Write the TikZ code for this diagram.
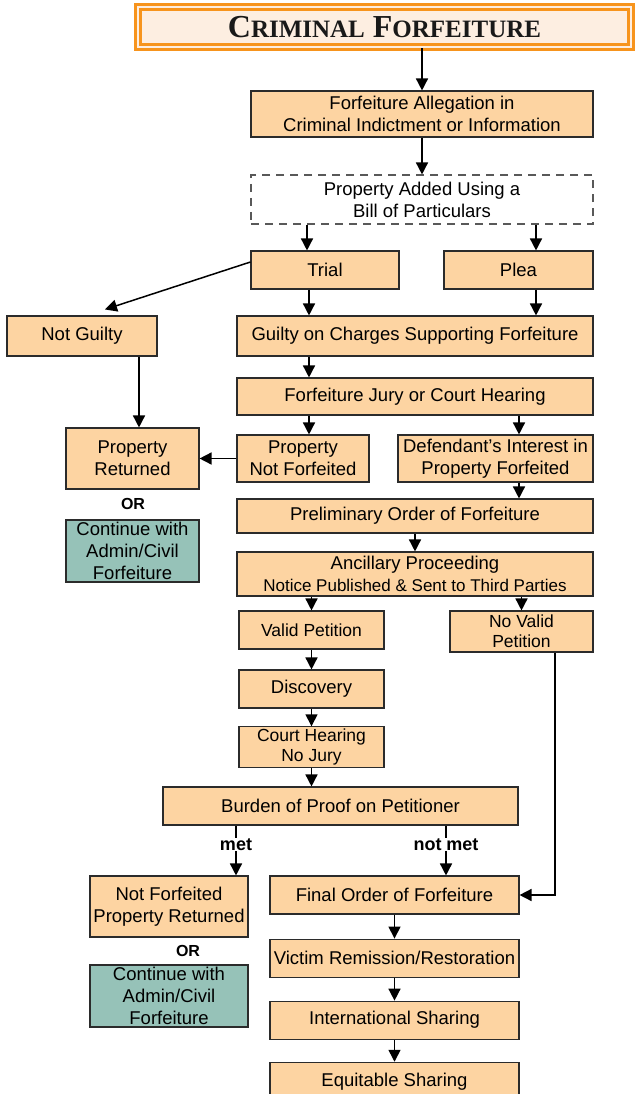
\documentclass[tikz,border=0pt]{standalone}
\usepackage{fontspec}
\setmainfont{Liberation Sans}
\setsansfont{Liberation Sans}
\newfontfamily\titlefont{Liberation Serif}
\usetikzlibrary{positioning,arrows.meta}
\definecolor{peach}{HTML}{FDD4A2}
\definecolor{sage}{HTML}{96C2B8}
\definecolor{tangerine}{HTML}{F7941D}
\definecolor{cream}{HTML}{FDEEE1}
\definecolor{ink}{HTML}{2B2B2B}

\begin{document}
\begin{tikzpicture}[
  x=1pt, y=-1pt,
  font=\sffamily\fontsize{18.5}{22}\selectfont,
  box/.style={draw=ink, line width=1.1pt, fill=peach, text=black, align=center, inner sep=2pt},
  alt/.style={box, fill=sage},
  ghost/.style={box, fill=none, draw=gray!70!black, dash pattern=on 8pt off 6pt},
  banner/.style={draw=tangerine, line width=2.5pt, double=cream, double distance=2.5pt, fill=cream, text=black!90, inner sep=0pt},
  small/.style={font=\sffamily\fontsize{17.5}{20}\selectfont},
  orlbl/.style={font=\sffamily\bfseries\fontsize{16}{18}\selectfont},
  cond/.style={fill=white, inner sep=1pt, font=\sffamily\bfseries\fontsize{18}{20}\selectfont},
  arr/.style={-{Triangle[length=12pt, width=12pt]}, line width=1.5pt, draw=black},
]
\useasboundingbox (0,0) rectangle (635,1094);

% title
\node[banner, minimum width=493pt, minimum height=40pt] (head) at (384.5,27)
  {\titlefont\bfseries\fontsize{32}{36}\selectfont C{\fontsize{25}{36}\selectfont RIMINAL} F{\fontsize{25}{36}\selectfont ORFEITURE}};

% indictment and trial
\node[box, minimum width=342pt, minimum height=46pt] (alleg) at (422,114) {Forfeiture Allegation in\\Criminal Indictment or Information};
\node[ghost, minimum width=342pt, minimum height=49pt] (bill) at (422,199.5) {Property Added Using a\\Bill of Particulars};
\node[box, minimum width=148pt, minimum height=38pt] (trial) at (325,270) {Trial};
\node[box, minimum width=149pt, minimum height=38pt] (plea) at (518.5,270) {Plea};
\node[box, minimum width=150pt, minimum height=40pt] (notguilty) at (82,336) {Not Guilty};
\node[box, minimum width=356pt, minimum height=40pt] (guilty) at (415,336) {Guilty on Charges Supporting Forfeiture};
\node[box, minimum width=356pt, minimum height=37pt] (jury) at (415,396.5) {Forfeiture Jury or Court Hearing};
\node[box, minimum width=133pt, minimum height=61pt] (returned) at (132.5,458.5) {Property\\Returned};
\node[box, minimum width=132pt, minimum height=47pt] (notforf) at (303,458.5) {Property\\Not Forfeited};
\node[box, minimum width=195pt, minimum height=47pt] (interest) at (495.5,458.5) {Defendant’s Interest in\\Property Forfeited};
\node[orlbl] (or1) at (133,504) {OR};
\node[alt, minimum width=133pt, minimum height=62pt] (civil1) at (132.5,551) {Continue with\\Admin/Civil\\Forfeiture};

% ancillary proceeding
\node[box, minimum width=356pt, minimum height=34pt] (prelim) at (415,516) {Preliminary Order of Forfeiture};
\node[box, minimum width=356pt, minimum height=44pt] (ancil) at (415,574) {Ancillary Proceeding\\{\fontsize{17}{19}\selectfont Notice Published \& Sent to Third Parties}};
\node[box, small, minimum width=145pt, minimum height=38pt] (valid) at (311.5,630) {Valid Petition};
\node[box, small, minimum width=143pt, minimum height=41pt] (novalid) at (521.5,631.5) {No Valid\\Petition};
\node[box, minimum width=145pt, minimum height=38pt] (discovery) at (311.5,689) {Discovery};
\node[box, small, minimum width=145pt, minimum height=40pt] (courthear) at (311.5,747) {Court Hearing\\No Jury};
\node[box, minimum width=355pt, minimum height=38pt] (burden) at (340.5,806) {Burden of Proof on Petitioner};
\node[box, minimum width=158pt, minimum height=61pt] (returned2) at (169,906.5) {Not Forfeited\\Property Returned};
\node[orlbl] (or2) at (188,951) {OR};
\node[alt, minimum width=158pt, minimum height=62pt] (civil2) at (169,996) {Continue with\\Admin/Civil\\Forfeiture};

% final steps
\node[box, minimum width=249pt, minimum height=38pt] (final) at (394.5,895) {Final Order of Forfeiture};
\node[box, minimum width=249pt, minimum height=38pt, below=24pt of final] (victim) {Victim Remission/Restoration};
\node[box, minimum width=249pt, minimum height=38pt, below=23pt of victim] (intl) {International Sharing};
\node[box, minimum width=249pt, minimum height=38pt, below=22pt of intl] (equit) {Equitable Sharing};

% connectors
\draw[arr] (alleg.north |- head.south) -- (alleg.north);
\draw[arr] (alleg.south) -- (bill.north);
\draw[arr] ([xshift=-18pt]trial.north |- bill.south) -- ([xshift=-18pt]trial.north);
\draw[arr] ([xshift=17.5pt]plea.north |- bill.south) -- ([xshift=17.5pt]plea.north);
\draw[arr] ([yshift=8pt]trial.west) -- ([xshift=23pt,yshift=6pt]notguilty.north);
\draw[arr] ([xshift=-16pt]trial.south) -- ([xshift=-16pt]trial.south |- guilty.north);
\draw[arr] ([xshift=17.5pt]plea.south) -- ([xshift=17.5pt]plea.south |- guilty.north);
\draw[arr] ([xshift=57pt]notguilty.south) -- ([xshift=57pt]notguilty.south |- returned.north);
\draw[arr] ([xshift=-106pt]guilty.south) -- ([xshift=-106pt]guilty.south |- jury.north);
\draw[arr] ([xshift=6pt]notforf.north |- jury.south) -- ([xshift=6pt]notforf.north);
\draw[arr] ([xshift=23.5pt]interest.north |- jury.south) -- ([xshift=23.5pt]interest.north);
\draw[arr] (notforf.west) -- (returned.east);
\draw[arr] ([xshift=23.5pt]interest.south) -- ([xshift=23.5pt]interest.south |- prelim.north);
\draw[arr] (prelim.south) -- (ancil.north);
\draw[arr] (valid.north |- ancil.south) -- (valid.north);
\draw[arr] (novalid.north |- ancil.south) -- (novalid.north);
\draw[arr] (valid.south) -- (discovery.north);
\draw[arr] (discovery.south) -- (courthear.north);
\draw[arr] (courthear.south) -- (courthear.south |- burden.north);
\draw[arr] ([xshift=67pt]returned2.north |- burden.south) -- node[cond, pos=0.38] (met) {met} ([xshift=67pt]returned2.north);
\draw[arr] ([xshift=51.5pt]final.north |- burden.south) -- node[cond, pos=0.38] (notmet) {not met} ([xshift=51.5pt]final.north);
\draw[arr] ([xshift=33.5pt]novalid.south) |- (final.east);
\draw[arr] (final.south) -- (victim.north);
\draw[arr] (victim.south) -- (intl.north);
\draw[arr] (intl.south) -- (equit.north);
\end{tikzpicture}
\end{document}
